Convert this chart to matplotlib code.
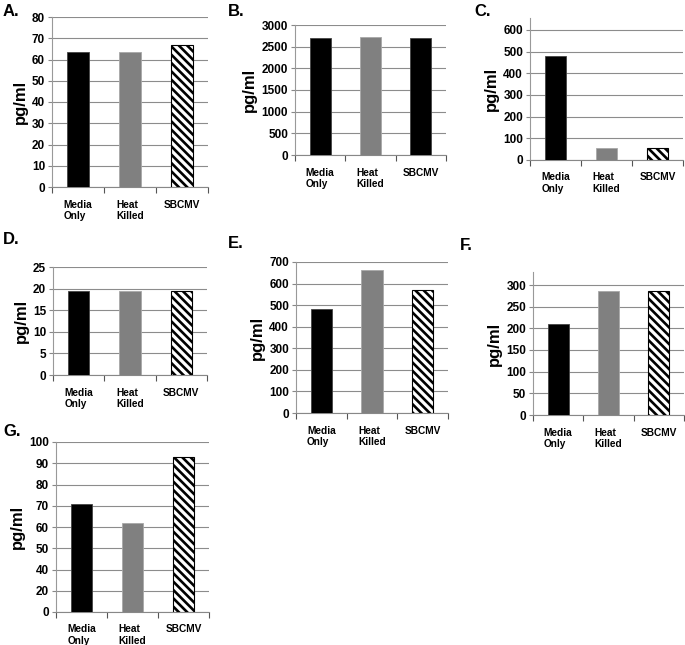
import matplotlib.pyplot as plt
import numpy as np

plt.rcParams['font.family'] = ['Liberation Sans', 'DejaVu Sans']
plt.rcParams['hatch.linewidth'] = 1.9

groups = ['Media\nOnly', 'Heat\nKilled', 'SBCMV']

a_vals = [63.5, 63.5, 66.8]
b_vals = [2708, 2731, 2708]
c_vals = [482, 55, 54]
d_vals = [19.5, 19.5, 19.5]
e_vals = [480, 665, 572]
f_vals = [210, 287, 286]
g_vals = [71, 62, 93]

a_ticks = [0, 10, 20, 30, 40, 50, 60, 70, 80]
b_ticks = [0, 500, 1000, 1500, 2000, 2500, 3000]
c_ticks = [0, 100, 200, 300, 400, 500, 600]
d_ticks = [0, 5, 10, 15, 20, 25]
e_ticks = [0, 100, 200, 300, 400, 500, 600, 700]
f_ticks = [0, 50, 100, 150, 200, 250, 300]
g_ticks = [0, 20, 40, 50, 60, 70, 80, 90, 100]   # as printed on the figure

W, H = 685, 645
fig = plt.figure(figsize=(W / 100, H / 100), dpi=100)


def panel(letter, vals, ticks, box, ytop=None, third_hatched=True, equal_ticks=False, letter_xy=None):
    l, t, r, b = box
    ax = fig.add_axes([l / W, 1 - b / H, (r - l) / W, (b - t) / H])
    if equal_ticks:
        pos = np.arange(len(ticks))
        ax.set_yscale('function', functions=(lambda y: np.interp(y, ticks, pos),
                                             lambda p: np.interp(p, pos, ticks)))
    x = np.arange(3)
    ax.bar(x[0], vals[0], width=0.42, color='black', edgecolor='#444444', linewidth=0.6, zorder=3)
    ax.bar(x[1], vals[1], width=0.42, color='#808080', edgecolor='#a8a8a8', linewidth=0.6, zorder=3)
    if third_hatched:
        ax.bar(x[2], vals[2], width=0.42, color='white', edgecolor='black', hatch='\\' * 4,
               linewidth=0.8, zorder=3)
    else:
        ax.bar(x[2], vals[2], width=0.42, color='black', edgecolor='#444444', linewidth=0.6, zorder=3)
    ax.set_xlim(-0.5, 2.5)
    ax.set_ylim(0, ytop if ytop else ticks[-1])
    ax.set_yticks(ticks)
    ax.set_yticklabels([str(v) for v in ticks], fontsize=8.5, fontweight='bold')
    ax.yaxis.grid(True, color='#8c8c8c', linewidth=0.8, zorder=0)
    ax.set_xticks(x)
    ax.set_xticklabels(groups, fontsize=7.3, fontweight='bold', multialignment='left')
    ax.set_xticks([-0.5, 0.5, 1.5, 2.5], minor=True)
    ax.tick_params(axis='x', which='major', length=0, pad=9)
    ax.tick_params(axis='x', which='minor', length=4, color='#555555', width=0.8)
    ax.tick_params(axis='y', length=3, color='#888888', width=0.8, pad=2)
    for s in ['top', 'right']:
        ax.spines[s].set_visible(False)
    ax.spines['left'].set_color('#999999')
    ax.spines['bottom'].set_color('#888888')
    ax.set_ylabel('pg/ml', fontsize=12, fontweight='bold', labelpad=3)
    lx, ly = letter_xy
    fig.text(lx / W, 1 - ly / H, letter + '.', fontsize=12, fontweight='bold', va='center', ha='left')
    return ax


panel('A', a_vals, a_ticks, (52, 17, 208, 187), letter_xy=(3, 12))
panel('B', b_vals, b_ticks, (295, 25, 446, 155), third_hatched=False, letter_xy=(228, 11))
panel('C', c_vals, c_ticks, (530, 18, 683, 160), ytop=655, letter_xy=(474, 11))
panel('D', d_vals, d_ticks, (53, 267, 207, 375), letter_xy=(3, 240))
panel('E', e_vals, e_ticks, (296, 262, 448, 413), letter_xy=(228, 243))
panel('F', f_vals, f_ticks, (533, 272, 684, 415), ytop=330, letter_xy=(460, 246))
panel('G', g_vals, g_ticks, (56, 442, 209, 612), equal_ticks=True, letter_xy=(3, 432))

fig.savefig('out.png', dpi=100)
